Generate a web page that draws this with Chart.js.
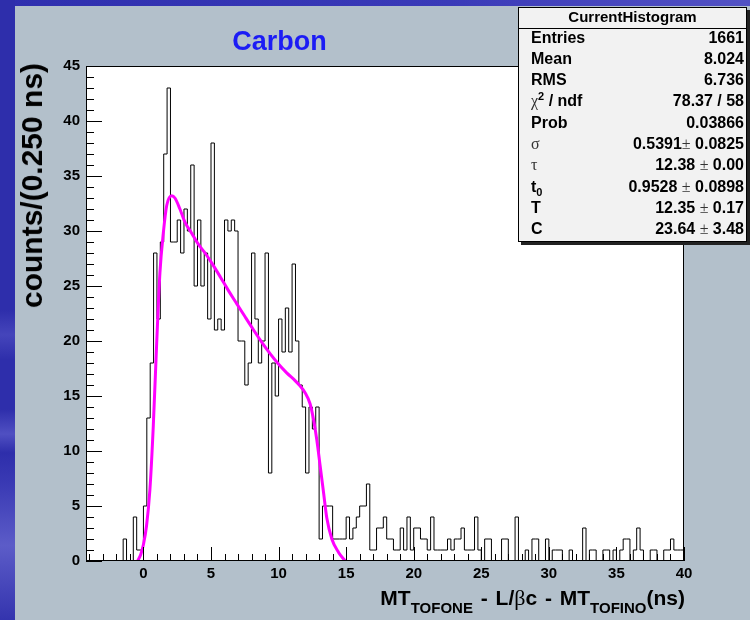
<!DOCTYPE html>
<html>
<head>
<meta charset="utf-8">
<script src="https://cdn.jsdelivr.net/npm/chart.js@4/dist/chart.umd.min.js"></script>
<style>
  html, body { margin: 0; padding: 0; }
  body {
    width: 750px; height: 620px; position: relative; overflow: hidden;
    background: #b3c0cb;
    font-family: "Liberation Sans", Arial, Helvetica, sans-serif;
  }
  #stripTop {
    position: absolute; left: 0; top: 0; width: 750px; height: 6px;
    background: linear-gradient(to right, #2f2fae, #3a3ab8 60%, #5252c4);
  }
  #stripLeft {
    position: absolute; left: 0; top: 0; width: 15px; height: 620px;
    background: linear-gradient(to bottom, #2e2eab 0%, #2e2eab 50%, #4545bb 54%, #2e2eab 58%,
      #2e2eab 66%, #5050c2 70%, #2e2eab 73%, #3a3ab4 78%, #5c5cc8 88%, #3434ae 100%);
  }
  #plot { position: absolute; left: 0; top: 0; }
  #title {
    position: absolute; left: 279.5px; top: 28px; transform: translateX(-50%);
    font-weight: bold; font-size: 27px; line-height: 27px; color: #1c1cf5; white-space: nowrap;
  }
  #xtitle {
    position: absolute; right: 65px; top: 587px;
    font-weight: bold; font-size: 21px; line-height: 21px; color: #000; white-space: nowrap;
    word-spacing: 2px;
  }
  #xtitle sub { font-size: 15px; vertical-align: -8px; line-height: 0; }
  #xtitle .g { font-size: 22px; }
  #ytitle {
    position: absolute; left: 32px; top: 63px; transform-origin: 0 0;
    transform: rotate(-90deg) translate(-100%, -50%);
    font-weight: bold; font-size: 30px; line-height: 30px; color: #000; white-space: nowrap;
  }
  .g { font-family: "Liberation Serif", "DejaVu Serif", serif; font-weight: normal; }
  #stats {
    position: absolute; left: 518px; top: 7px; width: 227px; height: 233px;
    background: #f2f2f2; border: 1px solid #000; box-shadow: 3px 3px 0 #222;
    font-weight: bold; font-size: 16px; color: #000;
  }
  #stats .hdr {
    position: absolute; left: 0; right: 0; top: 0; height: 20px; line-height: 17px;
    text-align: center; font-size: 15px; border-bottom: 1px solid #000;
  }
  #stats .rows { position: absolute; left: 12px; right: 2px; top: 18.5px; }
  #stats .row {
    display: flex; justify-content: space-between; height: 21.33px; line-height: 21.33px;
    white-space: nowrap;
  }
  #stats .row .g { color: #333; }
  #stats sup { font-size: 11px; vertical-align: 6px; line-height: 0; }
  #stats sub { font-size: 11px; vertical-align: -4px; line-height: 0; }
</style>
</head>
<body>
<div id="stripTop"></div>
<div id="stripLeft"></div>
<canvas id="plot" width="750" height="620"></canvas>
<div id="title">Carbon</div>
<div id="ytitle">counts/(0.250 ns)</div>
<div id="xtitle">MT<sub>TOFONE</sub> - L/<span class="g">β</span>c - MT<sub>TOFINO</sub>(ns)</div>
<div id="stats">
  <div class="hdr">CurrentHistogram</div>
  <div class="rows">
    <div class="row"><span>Entries</span><span>1661</span></div>
    <div class="row"><span>Mean</span><span>8.024</span></div>
    <div class="row"><span>RMS</span><span>6.736</span></div>
    <div class="row"><span><span class="g">χ</span><sup>2</sup> / ndf</span><span>78.37 / 58</span></div>
    <div class="row"><span>Prob</span><span>0.03866</span></div>
    <div class="row"><span class="g">σ</span><span>0.5391<span class="g">±</span> 0.0825</span></div>
    <div class="row"><span class="g">τ</span><span>12.38 <span class="g">±</span> 0.00</span></div>
    <div class="row"><span>t<sub>0</sub></span><span>0.9528 <span class="g">±</span> 0.0898</span></div>
    <div class="row"><span>T</span><span>12.35 <span class="g">±</span> 0.17</span></div>
    <div class="row"><span>C</span><span>23.64 <span class="g">±</span> 3.48</span></div>
  </div>
</div>
<script>
// Histogram binning (0.25 ns bins starting at -4 ns)
const binLow = -4;
const binWidth = 0.25;

// Counts per bin, from -4 ns to 40 ns
const counts = [
  0, 0, 0, 0, 0, 0, 0, 0, 0, 0, 0, 2,            // -4.00 .. -1.25
  0, 0, 4, 1, 1, 5, 13, 18, 28, 22, 29, 37,      // -1.00 ..  1.75
  43, 29, 29, 31, 28, 32, 30, 36, 25, 31, 25, 28,// 2.00 ..  4.75
  22, 38, 21, 22, 21, 31, 30, 31, 30, 20, 20, 16,// 5.00 ..  7.75
  18, 28, 22, 18, 20, 28, 8, 18, 15, 22, 19, 23, // 8.00 .. 10.75
  19, 27, 20, 16, 14, 8, 14, 12, 14, 2, 5, 5,    // 11.00 .. 13.75
  5, 2, 2, 2, 2, 4, 2, 3, 4, 5, 5, 7,            // 14.00 .. 16.75
  1, 1, 3, 3, 4, 2, 2, 1, 1, 3, 1, 4,            // 17.00 .. 19.75
  1, 3, 3, 2, 2, 1, 4, 1, 1, 1, 1, 2,            // 20.00 .. 22.75
  1, 2, 2, 3, 1, 1, 1, 4, 1, 0, 2, 2,            // 23.00 .. 25.75
  0, 0, 0, 2, 2, 0, 0, 4, 0, 0, 1, 0,            // 26.00 .. 28.75
  2, 2, 0, 0, 2, 0, 1, 1, 1, 0, 0, 1,            // 29.00 .. 31.75
  0, 0, 0, 3, 0, 1, 1, 0, 0, 1, 1, 0,            // 32.00 .. 34.75
  1, 0, 1, 2, 2, 0, 1, 3, 1, 0, 0, 1,            // 35.00 .. 37.75
  1, 0, 0, 1, 1, 2, 1, 1                         // 38.00 .. 39.75
];

// Fitted curve, sampled along its drawn path
const fitT = [-0.43, -0.2, 0.0, 0.23, 0.48, 0.73, 0.98, 1.22, 1.47, 1.72, 2.09, 2.33, 2.7, 3.07,
  3.57, 4.06, 4.56, 5.05, 5.7, 6.28, 6.9, 7.52, 8.15, 8.75, 9.4, 9.99, 10.6, 11.22, 11.6, 11.96,
  12.33, 12.58, 12.83, 13.07, 13.32, 13.57, 13.94, 14.43, 14.93];
const fitY = [0, 0.6, 1.5, 3.2, 6.5, 12.3, 19.8, 26.2, 29.8, 32.3, 33.2, 33.0, 32.0, 30.8,
  29.8, 28.8, 28.0, 27.1, 25.8, 24.6, 23.4, 22.2, 21.0, 19.9, 18.8, 17.9, 17.1, 16.4, 15.9, 15.3,
  14.3, 12.9, 11.0, 8.7, 6.3, 3.9, 2.0, 0.8, 0];

// Axis ranges and labelled ticks
const xRange = [-4.25, 40];
const yRange = [0, 45];
const xTickValues = [0, 5, 10, 15, 20, 25, 30, 35, 40];
const yTickValues = [0, 5, 10, 15, 20, 25, 30, 35, 40, 45];

// Step outline: one point per bin low edge plus the closing upper edge
const histPoints = counts.map((c, i) => ({ x: binLow + i * binWidth, y: c }));
histPoints.push({ x: binLow + counts.length * binWidth, y: counts[counts.length - 1] });
const fitPoints = fitT.map((t, i) => ({ x: t, y: fitY[i] }));

const FONT = '"Liberation Sans", Arial, Helvetica, sans-serif';

// White frame area, inward tick marks and the black frame
const rootFrame = {
  id: 'rootFrame',
  beforeDraw(chart) {
    const { ctx, chartArea: a } = chart;
    ctx.save();
    ctx.fillStyle = '#ffffff';
    ctx.fillRect(a.left, a.top, a.right - a.left, a.bottom - a.top);
    ctx.restore();
  },
  afterDatasetsDraw(chart) {
    const { ctx, chartArea: a, scales: { x, y } } = chart;
    ctx.save();
    ctx.strokeStyle = '#000';
    ctx.lineWidth = 1;
    ctx.beginPath();
    for (let v = Math.ceil(x.min); v <= x.max; v++) {
      const px = Math.round(x.getPixelForValue(v)) + 0.5;
      const len = v % 5 === 0 ? 14 : 7;
      ctx.moveTo(px, a.bottom);
      ctx.lineTo(px, a.bottom - len);
    }
    for (let v = y.min; v <= y.max; v++) {
      const py = Math.round(y.getPixelForValue(v)) + 0.5;
      const len = v % 5 === 0 ? 16 : 8;
      ctx.moveTo(a.left, py);
      ctx.lineTo(a.left + len, py);
    }
    ctx.stroke();
    ctx.strokeRect(Math.round(a.left) + 0.5, Math.round(a.top) + 0.5,
      Math.round(a.right - a.left) - 1, Math.round(a.bottom - a.top) - 1);
    ctx.restore();
  }
};

new Chart(document.getElementById('plot'), {
  type: 'line',
  data: {
    datasets: [
      {
        label: 'fit',
        data: fitPoints,
        borderColor: '#ff00ff',
        borderWidth: 3,
        pointRadius: 0,
        fill: false,
        cubicInterpolationMode: 'monotone',
        order: 0
      },
      {
        label: 'CurrentHistogram',
        data: histPoints,
        borderColor: '#000000',
        borderWidth: 1,
        pointRadius: 0,
        fill: false,
        stepped: 'after',
        order: 1
      }
    ]
  },
  options: {
    responsive: false,
    animation: false,
    devicePixelRatio: 1,
    layout: { padding: { left: 0, top: 66, right: 66, bottom: 0 } },
    plugins: { legend: { display: false }, tooltip: { enabled: false }, title: { display: false } },
    scales: {
      x: {
        type: 'linear',
        min: xRange[0], max: xRange[1],
        grid: { display: false, drawTicks: false },
        border: { display: false },
        afterBuildTicks: s => { s.ticks = xTickValues.map(v => ({ value: v })); },
        afterFit: s => { s.height = 59; },
        ticks: {
          color: '#000', padding: 4, maxRotation: 0, autoSkip: false,
          font: { family: FONT, size: 15, weight: 'bold' }
        }
      },
      y: {
        type: 'linear',
        min: yRange[0], max: yRange[1],
        grid: { display: false, drawTicks: false },
        border: { display: false },
        afterBuildTicks: s => { s.ticks = yTickValues.map(v => ({ value: v })); },
        afterFit: s => { s.width = 86; },
        ticks: {
          color: '#000', padding: 6, autoSkip: false,
          font: { family: FONT, size: 15, weight: 'bold' }
        }
      }
    }
  },
  plugins: [rootFrame]
});
</script>
</body>
</html>
